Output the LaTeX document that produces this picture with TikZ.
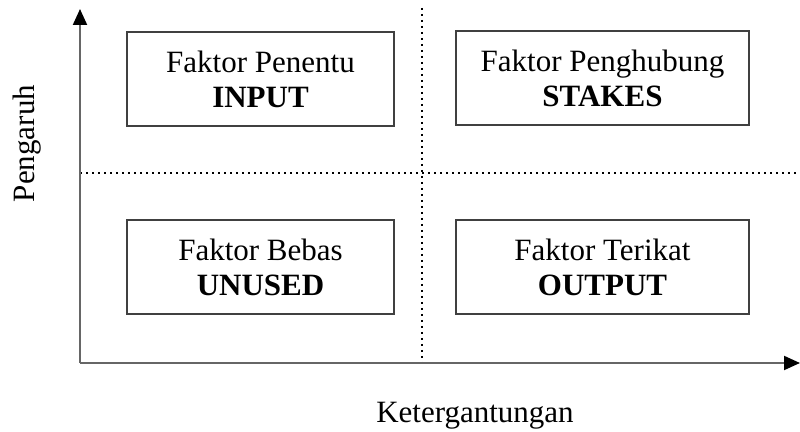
\documentclass[tikz,border=0pt]{standalone}
\usepackage{fontspec}
\setmainfont{Liberation Serif}
\usetikzlibrary{arrows.meta, positioning}
\tikzstyle{axis} = [line width=1pt, draw=black!60, -{Triangle[length=8pt,width=7pt,color=black]}]
\tikzstyle{split} = [line width=1pt, dash pattern=on 1pt off 2pt]

\begin{document}
\begin{tikzpicture}[x=0.5pt, y=-0.5pt, font=\fontsize{15.5}{17.5}\selectfont]
	\tikzstyle{quad}=[draw=black!75, line width=1pt, align=center, minimum height=47pt, inner sep=0pt]
	\useasboundingbox (0,0) rectangle (800,432);
	% axes and quadrant borders
	\coordinate (O)     at (80,363);
	\coordinate (ytip)  at (80,9);
	\coordinate (xtip)  at (800,363);
	\coordinate (vtop)  at (422,8);
	\coordinate (vbot)  at (422,363);
	\coordinate (hleft) at (80,173);
	\coordinate (hright) at (800,173);
	\draw[split] (vtop) -- (vbot);
	\draw[split] (hleft) -- (hright);
	\draw[axis] (O) -- (ytip);
	\draw[axis] (O) -- (xtip);
	% the four factors
	\node[quad, minimum width=133.5pt] (input)  at (260.5,79)  {Faktor Penentu\\\textbf{INPUT}};
	\node[quad, minimum width=146.5pt] (stakes) at (602.5,78.5) {Faktor Penghubung\\\textbf{STAKES}};
	\node[quad, minimum width=133.5pt] (unused) at (260.5,267.5) {Faktor Bebas\\\textbf{UNUSED}};
	\node[quad, minimum width=146.5pt] (output) at (602.5,267) {Faktor Terikat\\\textbf{OUTPUT}};
	% axis labels
	\node[rotate=90, anchor=base] (pengaruh) at (34,143.5) {Pengaruh};
	\node[anchor=base] (ketergantungan) at (475,423) {Ketergantungan};
\end{tikzpicture}
\end{document}
